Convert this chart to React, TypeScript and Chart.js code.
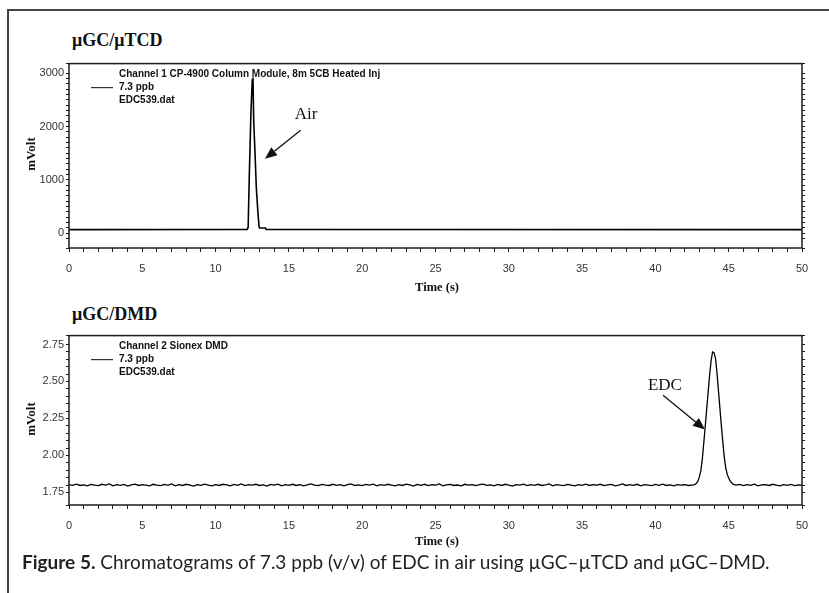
import React, { useEffect, useRef } from 'react';
import { Chart, registerables } from 'chart.js';

Chart.register(...registerables);

// ---------- data ----------
const panelTitles = ['μGC/μTCD', 'μGC/DMD'];
const yAxisTitle = 'mVolt';
const xAxisTitle = 'Time (s)';
const captionBold = 'Figure 5.';
const captionText = ' Chromatograms of 7.3 ppb (v/v) of EDC in air using µGC–µTCD and µGC–DMD.';

const timeMin = 0;
const timeMax = 50;
const timeMinorStep = 1;
const timeLabelEvery = 5;

const tcdLegend = ['Channel 1 CP-4900 Column Module, 8m 5CB Heated Inj', '7.3 ppb', 'EDC539.dat'];
const dmdLegend = ['Channel 2 Sionex DMD', '7.3 ppb', 'EDC539.dat'];

const tcdYMin = -275;
const tcdYMax = 3180;
const tcdMinorStep = 100;
const tcdLabelEvery = 1000;

const dmdYMin = 1.665;
const dmdYMax = 2.81;
const dmdMinorStep = 0.05;
const dmdLabelEvery = 0.25;

// µGC/µTCD channel (time s, mV)
const tcdTime = [0, 12.15, 12.22, 12.3, 12.41, 12.5, 12.55, 12.6, 12.7, 12.78, 12.88, 12.96, 13.0, 13.4, 13.45, 50];
const tcdSignal = [70, 72, 110, 1100, 2250, 2870, 2920, 2100, 1420, 840, 420, 130, 100, 100, 72, 70];

// µGC/DMD channel (time s, mV)
const dmdTime = [
  0, 0.25, 0.5, 0.75, 1, 1.25, 1.5, 1.75,
  2, 2.25, 2.5, 2.75, 3, 3.25, 3.5, 3.75,
  4, 4.25, 4.5, 4.75, 5, 5.25, 5.5, 5.75,
  6, 6.25, 6.5, 6.75, 7, 7.25, 7.5, 7.75,
  8, 8.25, 8.5, 8.75, 9, 9.25, 9.5, 9.75,
  10, 10.25, 10.5, 10.75, 11, 11.25, 11.5, 11.75,
  12, 12.25, 12.5, 12.75, 13, 13.25, 13.5, 13.75,
  14, 14.25, 14.5, 14.75, 15, 15.25, 15.5, 15.75,
  16, 16.25, 16.5, 16.75, 17, 17.25, 17.5, 17.75,
  18, 18.25, 18.5, 18.75, 19, 19.25, 19.5, 19.75,
  20, 20.25, 20.5, 20.75, 21, 21.25, 21.5, 21.75,
  22, 22.25, 22.5, 22.75, 23, 23.25, 23.5, 23.75,
  24, 24.25, 24.5, 24.75, 25, 25.25, 25.5, 25.75,
  26, 26.25, 26.5, 26.75, 27, 27.25, 27.5, 27.75,
  28, 28.25, 28.5, 28.75, 29, 29.25, 29.5, 29.75,
  30, 30.25, 30.5, 30.75, 31, 31.25, 31.5, 31.75,
  32, 32.25, 32.5, 32.75, 33, 33.25, 33.5, 33.75,
  34, 34.25, 34.5, 34.75, 35, 35.25, 35.5, 35.75,
  36, 36.25, 36.5, 36.75, 37, 37.25, 37.5, 37.75,
  38, 38.25, 38.5, 38.75, 39, 39.25, 39.5, 39.75,
  40, 40.25, 40.5, 40.75, 41, 41.25, 41.5, 41.75,
  42, 42.25, 42.5,
  42.6, 42.7, 42.8, 42.9, 43.0, 43.1, 43.2, 43.3, 43.4, 43.5,
  43.6, 43.7, 43.8, 43.9, 44.0, 44.1, 44.2, 44.3, 44.4, 44.5,
  44.6, 44.7, 44.8, 44.9, 45.0, 45.1, 45.2, 45.3, 45.4,
  45.5, 45.75, 46, 46.25, 46.5, 46.75, 47, 47.25, 47.5, 47.75,
  48, 48.25, 48.5, 48.75, 49, 49.25, 49.5, 49.75, 50,
];
const dmdSignal = [
  1.803, 1.798, 1.806, 1.797, 1.801, 1.794, 1.804, 1.799,
  1.796, 1.805, 1.800, 1.807, 1.795, 1.802, 1.798, 1.804,
  1.793, 1.801, 1.806, 1.797, 1.803, 1.799, 1.795, 1.805,
  1.800, 1.796, 1.804, 1.798, 1.807, 1.794, 1.802, 1.797,
  1.805, 1.799, 1.793, 1.803, 1.798, 1.806, 1.800, 1.795,
  1.802, 1.797, 1.805, 1.801, 1.794, 1.804, 1.798, 1.807,
  1.796, 1.803, 1.799, 1.805, 1.797, 1.801, 1.793, 1.804,
  1.800, 1.806, 1.795, 1.802, 1.798, 1.805, 1.797, 1.803,
  1.794, 1.801, 1.807, 1.799, 1.796, 1.804, 1.800, 1.797,
  1.805, 1.798, 1.803, 1.795, 1.802, 1.808, 1.797, 1.801,
  1.796, 1.804, 1.799, 1.806, 1.794, 1.802, 1.798, 1.805,
  1.800, 1.795, 1.803, 1.797, 1.806, 1.801, 1.793, 1.804,
  1.798, 1.805, 1.796, 1.802, 1.799, 1.807, 1.795, 1.801,
  1.804, 1.797, 1.800, 1.794, 1.805, 1.799, 1.803, 1.796,
  1.802, 1.806, 1.798, 1.801, 1.795, 1.804, 1.797, 1.805,
  1.799, 1.793, 1.803, 1.800, 1.806, 1.796, 1.802, 1.798,
  1.805, 1.797, 1.801, 1.807, 1.794, 1.803, 1.799, 1.796,
  1.804, 1.800, 1.795, 1.802, 1.798, 1.806, 1.797, 1.803,
  1.799, 1.805, 1.796, 1.801, 1.804, 1.794, 1.800, 1.807,
  1.797, 1.802, 1.798, 1.805, 1.795, 1.803, 1.800, 1.796,
  1.804, 1.798, 1.806, 1.797, 1.801, 1.795, 1.803, 1.799,
  1.802, 1.797, 1.800,
  1.801, 1.804, 1.812, 1.826, 1.855, 1.897, 1.975, 2.085, 2.197, 2.315,
  2.43, 2.545, 2.64, 2.70, 2.695, 2.655, 2.56, 2.44, 2.32, 2.20,
  2.09, 1.985, 1.915, 1.872, 1.848, 1.828, 1.815, 1.806, 1.802,
  1.799, 1.804, 1.796, 1.802, 1.798, 1.806, 1.795, 1.801, 1.803, 1.797,
  1.805, 1.799, 1.794, 1.802, 1.798, 1.804, 1.796, 1.801, 1.799,
];

// annotations: label, label anchor, arrow tail, arrow tip (data coordinates)
const tcdAnnotation = { label: 'Air', at: [16.17, 2224], tail: [15.8, 1930], tip: [13.37, 1397] };
const dmdAnnotation = { label: 'EDC', at: [40.65, 2.4725], tail: [40.52, 2.406], tip: [43.38, 2.175] };

// ---------- chart helpers ----------
const INK = '#1c1c1c';
const SANS = '"Liberation Sans", Arial, sans-serif';
const SERIF = '"Liberation Serif", "Times New Roman", serif';

type Ann = { label: string; at: number[]; tail: number[]; tip: number[] };

function overlayPlugin(legend: string[], ann: Ann) {
  return {
    id: 'overlay',
    afterDatasetsDraw(chart: any) {
      const { ctx, chartArea: a, scales } = chart;
      ctx.save();
      // frame
      ctx.strokeStyle = INK;
      ctx.lineWidth = 1.5;
      ctx.strokeRect(a.left, a.top, a.right - a.left, a.bottom - a.top);
      // legend
      ctx.strokeStyle = '#333';
      ctx.lineWidth = 1.2;
      ctx.beginPath();
      ctx.moveTo(a.left + 22, a.top + 24);
      ctx.lineTo(a.left + 44, a.top + 24);
      ctx.stroke();
      ctx.fillStyle = '#111';
      ctx.font = `bold 10px ${SANS}`;
      ctx.textAlign = 'left';
      ctx.textBaseline = 'middle';
      legend.forEach((t, i) => ctx.fillText(t, a.left + 50, a.top + 11 + i * 13));
      // annotation
      const xs = scales.x;
      const ys = scales.y;
      ctx.font = `17px ${SERIF}`;
      ctx.textAlign = 'center';
      ctx.fillStyle = '#111';
      ctx.fillText(ann.label, xs.getPixelForValue(ann.at[0]), ys.getPixelForValue(ann.at[1]));
      const sx = xs.getPixelForValue(ann.tail[0]);
      const sy = ys.getPixelForValue(ann.tail[1]);
      const tx = xs.getPixelForValue(ann.tip[0]);
      const ty = ys.getPixelForValue(ann.tip[1]);
      const ang = Math.atan2(ty - sy, tx - sx);
      const hl = 12;
      const hw = 5;
      const bx = tx - hl * Math.cos(ang);
      const by = ty - hl * Math.sin(ang);
      ctx.strokeStyle = '#111';
      ctx.lineWidth = 1.3;
      ctx.beginPath();
      ctx.moveTo(sx, sy);
      ctx.lineTo(bx, by);
      ctx.stroke();
      ctx.beginPath();
      ctx.moveTo(tx, ty);
      ctx.lineTo(bx - hw * Math.sin(ang), by + hw * Math.cos(ang));
      ctx.lineTo(bx + hw * Math.sin(ang), by - hw * Math.cos(ang));
      ctx.closePath();
      ctx.fill();
      ctx.restore();
    },
  };
}

function isMultiple(v: number, step: number) {
  const r = v / step;
  return Math.abs(r - Math.round(r)) < 1e-6;
}

function makeConfig(
  times: number[],
  values: number[],
  yMin: number,
  yMax: number,
  minor: number,
  every: number,
  decimals: number,
  xAxisHeight: number,
  lineWidth: number,
  legend: string[],
  ann: Ann,
): any {
  return {
    type: 'line',
    data: {
      datasets: [
        {
          data: times.map((t, i) => ({ x: t, y: values[i] })),
          borderColor: '#000',
          borderWidth: lineWidth,
          pointRadius: 0,
          tension: 0,
          fill: false,
        },
      ],
    },
    options: {
      animation: false,
      responsive: false,
      maintainAspectRatio: false,
      devicePixelRatio: 1,
      events: [],
      layout: { padding: { top: 5, left: 0, right: 0, bottom: 0 } },
      plugins: { legend: { display: false }, tooltip: { enabled: false }, title: { display: false } },
      scales: {
        x: {
          type: 'linear',
          min: timeMin,
          max: timeMax,
          afterFit: (s: any) => {
            s.height = xAxisHeight;
          },
          ticks: {
            stepSize: timeMinorStep,
            autoSkip: false,
            maxRotation: 0,
            padding: 10,
            color: '#333',
            font: { family: SANS, size: 11 },
            callback: (v: number) => (isMultiple(v, timeLabelEvery) ? String(v) : ''),
          },
          grid: { drawOnChartArea: false, drawTicks: true, tickLength: 4, color: INK, tickWidth: 1 },
          border: { display: false },
        },
        y: {
          type: 'linear',
          position: 'left',
          min: yMin,
          max: yMax,
          afterFit: (s: any) => {
            s.width = 69;
          },
          ticks: {
            stepSize: minor,
            autoSkip: false,
            padding: 2,
            color: '#333',
            font: { family: SANS, size: 11 },
            callback: (v: number) => (isMultiple(v, every) ? v.toFixed(decimals) : ''),
          },
          grid: { drawOnChartArea: false, drawTicks: true, tickLength: 3, color: INK, tickWidth: 1 },
          border: { display: false },
        },
        y2: {
          type: 'linear',
          position: 'right',
          min: yMin,
          max: yMax,
          afterFit: (s: any) => {
            s.width = 27;
          },
          ticks: { display: false, stepSize: minor, autoSkip: false },
          grid: { drawOnChartArea: false, drawTicks: true, tickLength: 3, color: INK, tickWidth: 1 },
          border: { display: false },
        },
      },
    },
    plugins: [overlayPlugin(legend, ann)],
  };
}

function ChartCanvas({ config, top, height }: { config: () => any; top: number; height: number }) {
  const ref = useRef<HTMLCanvasElement>(null);
  useEffect(() => {
    const chart = new Chart(ref.current as HTMLCanvasElement, config());
    return () => chart.destroy();
  }, []);
  return (
    <canvas
      ref={ref}
      width={829}
      height={height}
      style={{ position: 'absolute', left: 0, top, width: 829, height }}
    />
  );
}

const abs = (extra: React.CSSProperties): React.CSSProperties => ({ position: 'absolute', whiteSpace: 'nowrap', ...extra });

export default function App() {
  return (
    <div
      style={{
        position: 'absolute',
        left: 0,
        top: 0,
        width: 829,
        height: 593,
        overflow: 'hidden',
        background: '#fff',
      }}
    >
      <div
        style={abs({
          left: 7,
          top: 9,
          width: 900,
          height: 700,
          borderLeft: '2px solid #444',
          borderTop: '2px solid #444',
        })}
      />
      <div style={abs({ left: 72, top: 31, font: `bold 18px ${SERIF}`, lineHeight: '18px', color: '#111' })}>
        {panelTitles[0]}
      </div>
      <div style={abs({ left: 72, top: 305, font: `bold 18px ${SERIF}`, lineHeight: '18px', color: '#111' })}>
        {panelTitles[1]}
      </div>

      <ChartCanvas
        top={55}
        height={245}
        config={() =>
          makeConfig(tcdTime, tcdSignal, tcdYMin, tcdYMax, tcdMinorStep, tcdLabelEvery, 0, 52, 1.6, tcdLegend, tcdAnnotation)
        }
      />
      <ChartCanvas
        top={327}
        height={233}
        config={() =>
          makeConfig(dmdTime, dmdSignal, dmdYMin, dmdYMax, dmdMinorStep, dmdLabelEvery, 2, 55, 1.3, dmdLegend, dmdAnnotation)
        }
      />

      {[154, 418.5].map((cy) => (
        <div
          key={cy}
          style={abs({
            left: 30,
            top: cy,
            transform: 'translate(-50%, -50%) rotate(-90deg)',
            font: `bold 13px ${SERIF}`,
            lineHeight: '13px',
            color: '#111',
          })}
        >
          {yAxisTitle}
        </div>
      ))}
      {[287, 541].map((cy) => (
        <div
          key={cy}
          style={abs({
            left: 437,
            top: cy,
            transform: 'translate(-50%, -50%)',
            font: `bold 12.5px ${SERIF}`,
            lineHeight: '13px',
            color: '#111',
          })}
        >
          {xAxisTitle}
        </div>
      ))}

      <div style={abs({ left: 22, top: 552, font: `19px Lato, sans-serif`, lineHeight: '19px', color: '#231f20' })}>
        <span style={{ fontWeight: 700 }}>{captionBold}</span>
        {captionText}
      </div>
    </div>
  );
}
